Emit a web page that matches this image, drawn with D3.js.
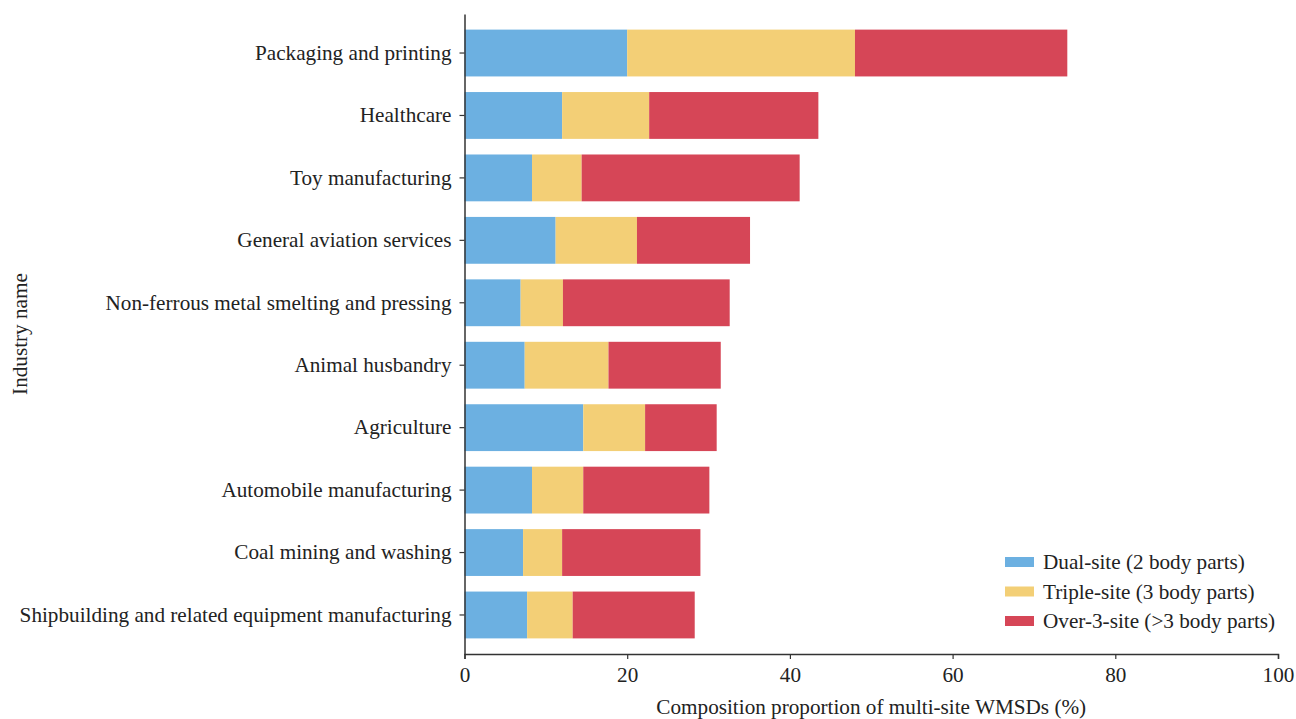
<!DOCTYPE html>
<html>
<head>
<meta charset="utf-8">
<script src="https://cdn.jsdelivr.net/npm/d3@7"></script>
<style>
  body{margin:0;background:#fff;}
  svg text{font-family:"Liberation Serif","Times New Roman",serif;fill:#222;}
</style>
</head>
<body>
<svg id="chart" width="1296" height="719"></svg>
<script>
// industries, top to bottom
var industries=["Packaging and printing","Healthcare","Toy manufacturing","General aviation services",
  "Non-ferrous metal smelting and pressing","Animal husbandry","Agriculture","Automobile manufacturing",
  "Coal mining and washing","Shipbuilding and related equipment manufacturing"];
// share of each site group (%)
var dualSite=[20.0,12.0,8.3,11.2,6.9,7.4,14.6,8.3,7.2,7.7];
var tripleSite=[28.0,10.7,6.1,10.0,5.2,10.3,7.6,6.3,4.8,5.6];
var overSite=[26.1,20.8,26.8,13.9,20.5,13.8,8.8,15.5,17.0,15.0];
var seriesNames=["Dual-site (2 body parts)","Triple-site (3 body parts)","Over-3-site (>3 body parts)"];
var xTicks=[0,20,40,60,80,100];

var colors=["#6cb0e1","#f3cf76","#d64657"];
var fontSize="21.2px";

var svg=d3.select("#chart");
var plotLeft=464.5,plotRight=1278,plotTop=14,plotBottom=654;

var x=d3.scaleLinear().domain([0,100]).range([plotLeft,plotRight]);
var y=d3.scaleBand().domain(industries).range([plotTop,plotBottom]).paddingInner(0.25).paddingOuter(0.25);

var rows=industries.map(function(name,i){
  return {name:name,dual:dualSite[i],triple:tripleSite[i],over:overSite[i]};
});
var stack=d3.stack().keys(["dual","triple","over"]);
var layers=stack(rows);

svg.append("g").selectAll("g")
  .data(layers).enter().append("g")
    .attr("fill",function(d,i){return colors[i];})
  .selectAll("rect")
  .data(function(d){return d;}).enter().append("rect")
    .attr("x",function(d){return x(d[0]);})
    .attr("width",function(d){return x(d[1])-x(d[0]);})
    .attr("y",function(d){return y(d.data.name);})
    .attr("height",y.bandwidth());

// axes
var xAxis=svg.append("g")
  .attr("transform","translate(0,"+plotBottom+")")
  .call(d3.axisBottom(x).tickValues(xTicks).tickSize(5).tickPadding(8).tickSizeOuter(5));
var yAxis=svg.append("g")
  .attr("transform","translate("+plotLeft+",0)")
  .call(d3.axisLeft(y).tickSize(5).tickPadding(8).tickSizeOuter(0));

[xAxis,yAxis].forEach(function(a){
  a.select(".domain").attr("stroke","#333").attr("stroke-width",1.5);
  a.selectAll(".tick line").attr("stroke","#333").attr("stroke-width",1.2);
  a.selectAll(".tick text").attr("font-size",fontSize).attr("fill","#222");
});

// axis titles
svg.append("text")
  .attr("x",(plotLeft+plotRight)/2).attr("y",714)
  .attr("text-anchor","middle").attr("font-size",fontSize)
  .text("Composition proportion of multi-site WMSDs (%)");
svg.append("text")
  .attr("transform","translate(27,"+((plotTop+plotBottom)/2)+") rotate(-90)")
  .attr("text-anchor","middle").attr("font-size",fontSize)
  .text("Industry name");

// legend
var legend=svg.append("g").attr("transform","translate(1005,557)");
var item=legend.selectAll("g").data(seriesNames).enter().append("g")
  .attr("transform",function(d,i){return "translate(0,"+(i*29.5)+")";});
item.append("rect").attr("width",29).attr("height",10)
  .attr("fill",function(d,i){return colors[i];});
item.append("text").attr("x",38).attr("y",5).attr("dy","0.35em")
  .attr("font-size",fontSize).text(function(d){return d;});
</script>
</body>
</html>
